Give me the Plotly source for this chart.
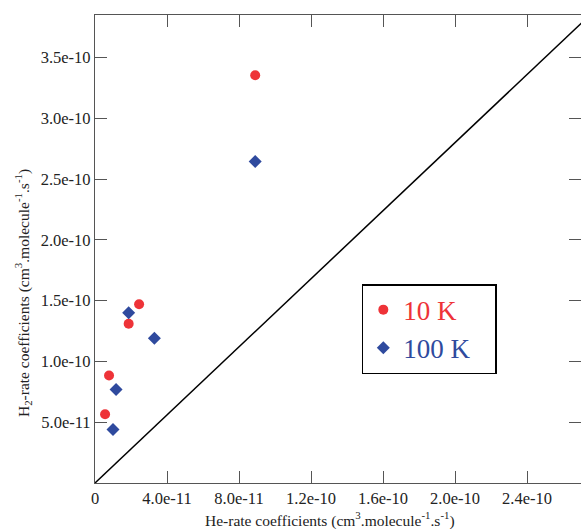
import plotly.graph_objects as go

# ---- data ----
he_10K = [8.9e-11, 2.45e-11, 1.87e-11, 7.8e-12, 5.6e-12]
h2_10K = [3.355e-10, 1.47e-10, 1.31e-10, 8.85e-11, 5.65e-11]

he_100K = [8.9e-11, 1.87e-11, 3.3e-11, 1.17e-11, 1.0e-11]
h2_100K = [2.645e-10, 1.40e-10, 1.19e-10, 7.7e-11, 4.4e-11]

x_tickvals = [0, 4.0e-11, 8.0e-11, 1.2e-10, 1.6e-10, 2.0e-10, 2.4e-10]
x_ticktext = ["0", "4.0e-11", "8.0e-11", "1.2e-10", "1.6e-10", "2.0e-10", "2.4e-10"]
y_tickvals = [5.0e-11, 1.0e-10, 1.5e-10, 2.0e-10, 2.5e-10, 3.0e-10, 3.5e-10]
y_ticktext = ["5.0e-11", "1.0e-10", "1.5e-10", "2.0e-10", "2.5e-10", "3.0e-10", "3.5e-10"]

x_range = [0, 2.7e-10]
y_range = [0, 3.85e-10]
# corner-to-corner reference line of the full (uncropped) frame
diag_x = [0, 2.75e-10]
diag_y = [0, 3.85e-10]

RED = "#ee3338"
BLUE = "#2f4a9e"
FONT = "Liberation Serif"
PAD = "\u00a0" * 3

fig = go.Figure()

fig.add_trace(go.Scatter(
    x=diag_x, y=diag_y, mode="lines",
    line=dict(color="black", width=1.5),
    showlegend=False, hoverinfo="skip", cliponaxis=True,
))

fig.add_trace(go.Scatter(
    x=he_10K, y=h2_10K, mode="markers",
    marker=dict(symbol="circle", size=10, color=RED),
    name=f"<span style='color:{RED}'>10 K</span>",
))
fig.add_trace(go.Scatter(
    x=he_100K, y=h2_100K, mode="markers",
    marker=dict(symbol="diamond", size=10, color=BLUE),
    name=f"<span style='color:{BLUE}'>100 K{PAD}</span>",
))

axis_common = dict(
    showline=True, linecolor="#555555", linewidth=1.2,
    mirror="ticks", ticks="inside", ticklen=12, tickwidth=1,
    tickcolor="#555555", showgrid=False, zeroline=False,
    automargin=False,
    tickfont=dict(family=FONT, size=16.5, color="#222222"),
)

fig.update_xaxes(range=x_range, tickvals=x_tickvals, ticktext=x_ticktext,
                 **axis_common)
fig.update_yaxes(range=y_range, tickvals=y_tickvals, ticktext=y_ticktext,
                 **axis_common)

fig.add_annotation(
    text="H<sub>2</sub>-rate coefficients (cm<sup>3</sup>.molecule<sup>-1</sup>.s<sup>-1</sup>)",
    xref="paper", yref="paper", x=-0.148, y=0.406,
    textangle=-90, showarrow=False,
    font=dict(family=FONT, size=15.5, color="#222222"),
    xanchor="center", yanchor="middle",
)
fig.add_annotation(
    text="He-rate coefficients (cm<sup>3</sup>.molecule<sup>-1</sup>.s<sup>-1</sup>)",
    xref="paper", yref="paper", x=0.4835, y=-0.079,
    showarrow=False,
    font=dict(family=FONT, size=15.5, color="#222222"),
    xanchor="center", yanchor="middle",
)

fig.update_layout(
    width=581, height=529,
    margin=dict(l=95, r=0, t=15, b=46, autoexpand=False),
    paper_bgcolor="white", plot_bgcolor="white",
    showlegend=True,
    legend=dict(
        x=0.549, y=0.425, xanchor="left", yanchor="top",
        bgcolor="white", bordercolor="black", borderwidth=1.5,
        font=dict(family=FONT, size=27),
        tracegroupgap=0,
        itemsizing="trace",
    ),
)

fig.write_html("out.html", config={"displayModeBar": False},
               post_script="document.body.style.margin='0';")
